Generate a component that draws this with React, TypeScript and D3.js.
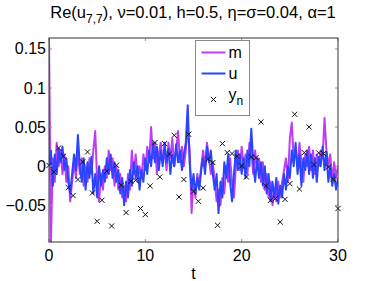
import { useMemo } from 'react'
import * as d3 from 'd3'

const W = 374
const H = 281
const MARGIN = { top: 38, right: 36, bottom: 39, left: 49 }
const DT = 0.2
const OBS_DT = 0.5

const xTicks = [0, 10, 20, 30]
const yTicks = [-0.05, 0, 0.05, 0.1, 0.15]
const yTickLabels = ['\u22120.05', '0', '0.05', '0.1', '0.15']

// m (magenta), sampled every DT
const mValues = [
  0.164, -0.097, 0.01, -0.02, 0.03, 0.0, 0.02, -0.01, 0.015, -0.02,
  0.0, -0.045, -0.02, 0.005, -0.015, 0.02, -0.01, 0.01, -0.025, 0.0,
  -0.02, 0.01, -0.01, 0.02, 0.045, -0.02, -0.045, -0.01, -0.03, 0.0,
  -0.015, 0.02, -0.005, 0.01, -0.025, 0.0, -0.03, -0.01, -0.04, -0.025,
  -0.045, -0.01, -0.03, 0.02, -0.01, 0.015, -0.02, 0.0, -0.015, 0.015,
  -0.005, 0.025, 0.005, 0.05, 0.01, 0.03, -0.01, 0.015, 0.03, 0.005,
  0.02, -0.005, 0.03, 0.01, 0.035, 0.0, 0.02, 0.045, 0.005, 0.025,
  0.0, 0.02, 0.05, 0.02, -0.06, -0.02, -0.04, -0.01, -0.025, 0.0,
  0.02, 0.0, 0.03, 0.01, -0.01, 0.005, -0.02, -0.045, -0.03, -0.05,
  -0.015, -0.035, 0.0, -0.02, 0.01, -0.02, -0.04, 0.0, 0.02, -0.005,
  0.025, 0.0, 0.015, -0.01, 0.03, 0.02, -0.01, 0.02, -0.005, 0.01,
  -0.02, 0.005, -0.03, -0.01, -0.04, -0.02, -0.05, -0.03, -0.045, -0.02,
  -0.04, -0.02, -0.005, 0.01, -0.02, 0.035, 0.056, 0.01, 0.02, 0.0,
  0.03, 0.005, -0.02, 0.015, 0.0, 0.025, -0.005, 0.02, -0.01, 0.015,
  0.0, 0.02, 0.01, 0.062, 0.02, 0.0, 0.015, -0.02, 0.005, -0.015,
  0.0,
]

// u (blue), sampled every DT
const uValues = [
  0.0, 0.02, -0.025, 0.015, -0.01, 0.022, 0.005, 0.025, -0.005, 0.01,
  -0.02, -0.035, -0.01, 0.015, -0.005, 0.04, 0.0, -0.02, 0.01, -0.03,
  0.005, -0.015, 0.012, -0.035, -0.01, -0.04, 0.0, -0.025, -0.005, -0.02,
  0.01, -0.01, 0.015, -0.015, 0.005, -0.02, -0.005, -0.035, -0.015, -0.05,
  -0.02, -0.04, -0.005, -0.025, 0.005, -0.015, 0.0, -0.03, -0.005, -0.02,
  0.01, -0.01, 0.02, 0.0, 0.03, 0.005, 0.025, -0.005, 0.02, 0.0,
  0.03, 0.005, 0.022, -0.01, 0.015, 0.0, 0.028, 0.005, 0.02, -0.005,
  0.015, 0.03, 0.078, 0.005, -0.03, -0.01, -0.035, -0.015, -0.03, -0.005,
  0.01, -0.01, 0.025, 0.005, 0.02, -0.01, -0.03, -0.01, -0.06, -0.02,
  -0.04, 0.005, -0.015, 0.015, -0.02, -0.045, -0.01, 0.02, -0.005, 0.015,
  -0.01, 0.01, -0.015, 0.02, 0.0, 0.048, 0.005, -0.02, 0.01, -0.015,
  0.005, -0.025, 0.0, -0.035, -0.01, -0.045, -0.02, -0.04, -0.015, -0.048,
  -0.025, -0.04, -0.01, -0.03, 0.0, -0.015, 0.02, 0.0, 0.03, -0.01,
  0.015, -0.025, 0.01, -0.005, 0.02, -0.01, 0.015, -0.015, 0.01, -0.02,
  0.012, 0.0, 0.025, -0.005, 0.018, -0.02, 0.0, -0.025, -0.01, -0.03,
  -0.015,
]

// y_n observations, every OBS_DT
const yObs = [
  0.001, -0.0074, 0.0233, 0.0127, -0.0274, -0.0376, -0.0171, 0.0054, 0.0182, -0.0343,
  -0.0705, -0.0436, -0.0065, -0.0765, 0.0012, -0.0244, -0.0594, -0.0193, -0.018, -0.0542,
  -0.0619, -0.0253, 0.0302, -0.0138, 0.0289, 0.0156, 0.0395, -0.0394, -0.0171, 0.0408,
  -0.0321, -0.0449, -0.0279, 0.0088, 0.0046, -0.0756, 0.0289, 0.0174, 0.0161, 0.0127,
  0.0003, -0.0138, 0.0118, 0.011, 0.0566, -0.0253, -0.0436, -0.0415, -0.0714, -0.0424,
  -0.0223, 0.0664, -0.0292, 0.0174, 0.0502, 0.002, 0.0169, 0.0161, -0.001, -0.0168,
  -0.0542,
]

const M_COLOR = '#bf3cf5'
const U_COLOR = '#2b44ff'
const FONT = 'Liberation Sans, Arial, Helvetica, sans-serif'

const Cross = ({ x, y, r = 2.6 }: { x: number; y: number; r?: number }) => (
  <path
    d={`M${x - r},${y - r}L${x + r},${y + r}M${x - r},${y + r}L${x + r},${y - r}`}
    stroke="#111"
    strokeWidth={1}
    fill="none"
  />
)

export default function App() {
  const bw = W - MARGIN.left - MARGIN.right
  const bh = H - MARGIN.top - MARGIN.bottom

  const xScale = useMemo(() => d3.scaleLinear().domain([0, 30]).range([0, bw]), [bw])
  const yScale = useMemo(() => d3.scaleLinear().domain([-0.097, 0.164]).range([bh, 0]), [bh])

  const line = d3
    .line<number>()
    .x((_, i) => xScale(i * DT))
    .y((d) => yScale(d))

  return (
    <svg width={W} height={H} style={{ position: 'absolute', left: 0, top: 0, background: 'white' }}>
      <text x={193} y={18} textAnchor="middle" fontFamily={FONT} fontSize={16.5} fill="#000">
        Re(u<tspan dy={5} fontSize={12}>7,7</tspan>
        <tspan dy={-5}>), ν=0.01, h=0.5, η=σ=0.04, α=1</tspan>
      </text>
      <g transform={`translate(${MARGIN.left},${MARGIN.top})`}>
        <defs>
          <clipPath id="plotclip">
            <rect x={0} y={0} width={bw} height={bh} />
          </clipPath>
        </defs>
        <g clipPath="url(#plotclip)">
          <path d={line(mValues) ?? ''} fill="none" stroke={M_COLOR} strokeWidth={2} strokeLinejoin="round" />
          <path d={line(uValues) ?? ''} fill="none" stroke={U_COLOR} strokeWidth={2} strokeLinejoin="round" />
        </g>
        {yObs.map((v, i) => (
          <Cross key={i} x={xScale(i * OBS_DT)} y={yScale(v)} />
        ))}

        {/* ticks, MATLAB style: inside, on all four sides */}
        {xTicks.map((t) => (
          <g key={'x' + t}>
            <line x1={xScale(t)} x2={xScale(t)} y1={bh} y2={bh - 3} stroke="#999" />
            <line x1={xScale(t)} x2={xScale(t)} y1={0} y2={3} stroke="#999" />
            <text x={xScale(t)} y={bh + 19} textAnchor="middle" fontFamily={FONT} fontSize={16}>
              {t}
            </text>
          </g>
        ))}
        {yTicks.map((t, i) => (
          <g key={'y' + t}>
            <line x1={0} x2={3} y1={yScale(t)} y2={yScale(t)} stroke="#999" />
            <line x1={bw} x2={bw - 3} y1={yScale(t)} y2={yScale(t)} stroke="#999" />
            <text x={-3} y={yScale(t) + 5.5} textAnchor="end" fontFamily={FONT} fontSize={16}>
              {yTickLabels[i]}
            </text>
          </g>
        ))}
        <rect x={0} y={0} width={bw} height={bh} fill="none" stroke="#333" strokeWidth={1} />
        <text x={bw / 2} y={bh + 37} textAnchor="middle" fontFamily={FONT} fontSize={16}>
          t
        </text>
      </g>

      {/* legend */}
      <g transform="translate(195.5,40.5)">
        <rect x={0} y={0} width={54} height={75} fill="white" stroke="#888" />
        <line x1={6} x2={30} y1={12} y2={12} stroke={M_COLOR} strokeWidth={2} />
        <text x={33} y={17} fontFamily={FONT} fontSize={16}>m</text>
        <line x1={6} x2={30} y1={33} y2={33} stroke={U_COLOR} strokeWidth={2} />
        <text x={33} y={38} fontFamily={FONT} fontSize={16}>u</text>
        <Cross x={18} y={59} />
        <text x={33} y={59} fontFamily={FONT} fontSize={16}>
          y<tspan dy={5} fontSize={12}>n</tspan>
        </text>
      </g>
    </svg>
  )
}
